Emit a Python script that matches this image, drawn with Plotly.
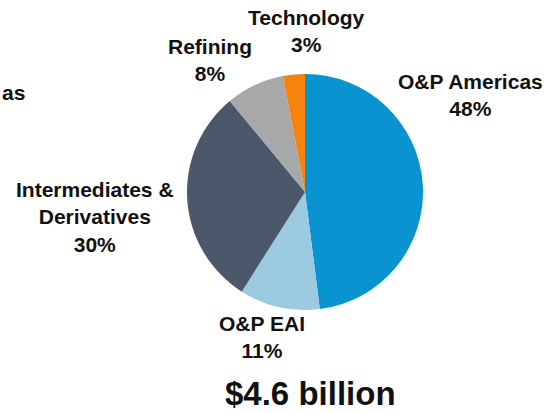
import plotly.graph_objects as go

segments = ["O&P Americas", "O&P EAI", "Intermediates &<br>Derivatives", "Refining", "Technology"]
shares = [48, 11, 30, 8, 3]
pct_labels = ["48%", "11%", "30%", "8%", "3%"]
total_label = "$4.6 billion"
colors = ["#0A93D1", "#9CCBE1", "#4B5869", "#A6A8AA", "#F5840F"]

W, H = 547, 413
# label centers in pixels (layout only)
label_pos = [(470, 95), (262, 337), (95, 217), (210, 60), (306, 31)]

fig = go.Figure(go.Pie(
    labels=[s.replace("<br>", " ") for s in segments],
    values=shares,
    sort=False,
    direction="clockwise",
    rotation=0,
    textinfo="none",
    hoverinfo="label+percent",
    marker=dict(colors=colors, line=dict(width=0)),
    domain=dict(x=[(305 - 118) / W, (305 + 118) / W], y=[(H - 310) / H, (H - 74) / H]),
    showlegend=False,
))

font = dict(family="Liberation Sans, Arial, sans-serif", size=21, color="#111111")
annotations = []
for seg, pct, (px, py) in zip(segments, pct_labels, label_pos):
    annotations.append(dict(
        text=f"<b>{seg}<br>{pct}</b>", x=px / W, y=1 - py / H, xref="paper", yref="paper",
        xanchor="center", yanchor="middle", showarrow=False, font=font, align="center"))
annotations.append(dict(
    text=f"<b>{total_label}</b>", x=310 / W, y=1 - 393 / H, xref="paper", yref="paper",
    xanchor="center", yanchor="middle", showarrow=False,
    font=dict(family="Liberation Sans, Arial, sans-serif", size=33, color="#111111")))
annotations.append(dict(
    text="<b>as</b>", x=0, y=1 - 92 / H, xref="paper", yref="paper",
    xanchor="left", yanchor="middle", showarrow=False, font=font))

fig.update_layout(
    width=W, height=H, margin=dict(l=0, r=0, t=0, b=0),
    paper_bgcolor="white", plot_bgcolor="white",
    annotations=annotations,
)
fig.write_html("out.html", config={"displayModeBar": False},
               post_script="document.body.style.margin='0';document.body.style.overflow='hidden';")
